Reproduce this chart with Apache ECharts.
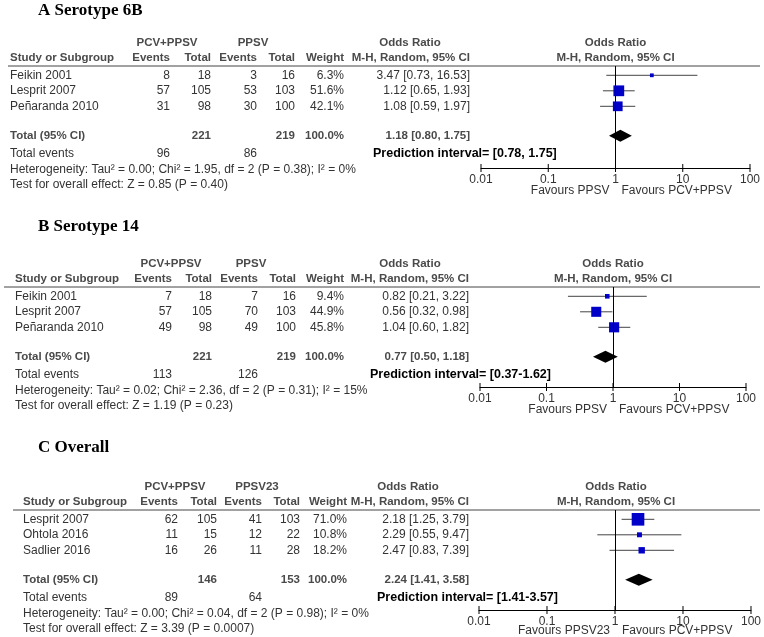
<!DOCTYPE html>
<html>
<head>
<meta charset="utf-8">
<script src="https://cdn.jsdelivr.net/npm/echarts@6/dist/echarts.min.js"></script>
<style>
html, body { margin: 0; padding: 0; background: #fff; }
#main { width: 764px; height: 637px; }
</style>
</head>
<body>
<div id="main"></div>
<script>
// A Serotype 6B
var titleA = 'A Serotype 6B';
var studiesA = ['Feikin 2001', 'Lesprit 2007', 'Peñaranda 2010'];
var eventsA1 = [8, 57, 31];
var totalA1 = [18, 105, 98];
var eventsA2 = [3, 53, 30];
var totalA2 = [16, 103, 100];
var weightA = [6.3, 51.6, 42.1];
var orA = [3.47, 1.12, 1.08];
var loA = [0.73, 0.65, 0.59];
var hiA = [16.53, 1.93, 1.97];
var pooledA = [1.18, 0.80, 1.75];
var sumsA = [221, 219, 96, 86];
var statsA = ['Heterogeneity: Tau² = 0.00; Chi² = 1.95, df = 2 (P = 0.38); I² = 0%',
              'Test for overall effect: Z = 0.85 (P = 0.40)',
              'Prediction interval= [0.78, 1.75]'];

// B Serotype 14
var titleB = 'B Serotype 14';
var studiesB = ['Feikin 2001', 'Lesprit 2007', 'Peñaranda 2010'];
var eventsB1 = [7, 57, 49];
var totalB1 = [18, 105, 98];
var eventsB2 = [7, 70, 49];
var totalB2 = [16, 103, 100];
var weightB = [9.4, 44.9, 45.8];
var orB = [0.82, 0.56, 1.04];
var loB = [0.21, 0.32, 0.60];
var hiB = [3.22, 0.98, 1.82];
var pooledB = [0.77, 0.50, 1.18];
var sumsB = [221, 219, 113, 126];
var statsB = ['Heterogeneity: Tau² = 0.02; Chi² = 2.36, df = 2 (P = 0.31); I² = 15%',
              'Test for overall effect: Z = 1.19 (P = 0.23)',
              'Prediction interval= [0.37-1.62]'];

// C Overall
var titleC = 'C Overall';
var studiesC = ['Lesprit 2007', 'Ohtola 2016', 'Sadlier 2016'];
var eventsC1 = [62, 11, 16];
var totalC1 = [105, 15, 26];
var eventsC2 = [41, 12, 11];
var totalC2 = [103, 22, 28];
var weightC = [71.0, 10.8, 18.2];
var orC = [2.18, 2.29, 2.47];
var loC = [1.25, 0.55, 0.83];
var hiC = [3.79, 9.47, 7.39];
var pooledC = [2.24, 1.41, 3.58];
var sumsC = [146, 153, 89, 64];
var statsC = ['Heterogeneity: Tau² = 0.00; Chi² = 0.04, df = 2 (P = 0.98); I² = 0%',
              'Test for overall effect: Z = 3.39 (P = 0.0007)',
              'Prediction interval= [1.41-3.57]'];

var groupNames = [['PCV+PPSV', 'PPSV'], ['PCV+PPSV', 'PPSV'], ['PCV+PPSV', 'PPSV23']];
var favours = [['Favours PPSV', 'Favours PCV+PPSV'], ['Favours PPSV', 'Favours PCV+PPSV'], ['Favours PPSV23', 'Favours PCV+PPSV']];
var tickVals = [0.01, 0.1, 1, 10, 100];
var tickLabels = ['0.01', '0.1', '1', '10', '100'];

// row slots (in row units below the header line)
var studyRows = [0.6, 1.6, 2.6];
var totalRow = 4.5;
var eventsRow = 5.65, hetRow = 6.68, testRow = 7.65;
var ROW_H = 15.5;

var panels = [
  {title: titleA, studies: studiesA, e1: eventsA1, t1: totalA1, e2: eventsA2, t2: totalA2, w: weightA, or: orA, lo: loA, hi: hiA, pooled: pooledA, sums: sumsA, stats: statsA},
  {title: titleB, studies: studiesB, e1: eventsB1, t1: totalB1, e2: eventsB2, t2: totalB2, w: weightB, or: orB, lo: loB, hi: hiB, pooled: pooledB, sums: sumsB, stats: statsB},
  {title: titleC, studies: studiesC, e1: eventsC1, t1: totalC1, e2: eventsC2, t2: totalC2, w: weightC, or: orC, lo: loC, hi: hiC, pooled: pooledC, sums: sumsC, stats: statsC}
];

// layout per panel (pixels)
var layout = [
  {titleY: 11, lineY: 66, axisY: 168, lineX: 8, study: 10, e1: 170, t1: 211, e2: 257, t2: 295, w: 344, or: 470, g1: 167, g2: 253, orHdr: 410, px0: 481, px1: 750, predX: 373, favY: 23},
  {titleY: 227, lineY: 287, axisY: 387, lineX: 4, study: 15, e1: 172, t1: 212, e2: 258, t2: 296, w: 344, or: 469, g1: 171, g2: 251, orHdr: 410, px0: 480, px1: 746, predX: 370, favY: 23},
  {titleY: 448, lineY: 510, axisY: 610, lineX: 13, study: 23, e1: 178, t1: 217, e2: 262, t2: 300, w: 347, or: 469, g1: 175, g2: 257, orHdr: 408, px0: 479, px1: 753, predX: 377, favY: 21}
];

var SANS = '"Liberation Sans", Arial, sans-serif';
var BODY = '#333';
var HEAD = '#4a4a4a';

function txt(x, y, s, size, bold, color, align) {
  return {
    type: 'text', silent: true,
    style: {
      x: x, y: y, text: String(s),
      font: (bold ? 'bold ' : '') + size + 'px ' + SANS,
      fill: color, align: align || 'left', verticalAlign: 'middle'
    }
  };
}

function ci(v) {
  return v[0].toFixed(2) + ' [' + v[1].toFixed(2) + ', ' + v[2].toFixed(2) + ']';
}

var graphics = [];
var grids = [], xAxes = [], yAxes = [], series = [];

panels.forEach(function (p, i) {
  var L = layout[i];
  var rowY = function (r) { return L.lineY + r * ROW_H; };
  var x1 = (L.px0 + L.px1) / 2;
  var plotH = L.axisY - L.lineY;
  var yMax = plotH / ROW_H;

  graphics.push({
    type: 'text', silent: true,
    style: {x: 38, y: L.titleY, text: p.title, font: 'bold 17px "Liberation Serif", "Times New Roman", serif',
            fill: '#000', verticalAlign: 'middle'}
  });

  // header
  var h1 = rowY(-1.5), h2 = rowY(-0.5);
  graphics.push(txt(L.g1, h1, groupNames[i][0], 11.5, true, HEAD, 'center'));
  graphics.push(txt(L.g2, h1, groupNames[i][1], 11.5, true, HEAD, 'center'));
  graphics.push(txt(L.orHdr, h1, 'Odds Ratio', 11.5, true, HEAD, 'center'));
  graphics.push(txt(x1, h1, 'Odds Ratio', 11.5, true, HEAD, 'center'));
  graphics.push(txt(L.study, h2, 'Study or Subgroup', 11.5, true, HEAD, 'left'));
  graphics.push(txt(L.e1, h2, 'Events', 11.5, true, HEAD, 'right'));
  graphics.push(txt(L.t1, h2, 'Total', 11.5, true, HEAD, 'right'));
  graphics.push(txt(L.e2, h2, 'Events', 11.5, true, HEAD, 'right'));
  graphics.push(txt(L.t2, h2, 'Total', 11.5, true, HEAD, 'right'));
  graphics.push(txt(L.w, h2, 'Weight', 11.5, true, HEAD, 'right'));
  graphics.push(txt(L.or, h2, 'M-H, Random, 95% CI', 11.5, true, HEAD, 'right'));
  graphics.push(txt(x1, h2, 'M-H, Random, 95% CI', 11.5, true, HEAD, 'center'));
  graphics.push({
    type: 'line', silent: true,
    shape: {x1: L.lineX, y1: L.lineY, x2: 760, y2: L.lineY},
    style: {stroke: '#444', lineWidth: 1}
  });

  // study rows
  p.studies.forEach(function (s, k) {
    var y = rowY(studyRows[k]);
    graphics.push(txt(L.study, y, s, 12, false, BODY, 'left'));
    graphics.push(txt(L.e1, y, p.e1[k], 12, false, BODY, 'right'));
    graphics.push(txt(L.t1, y, p.t1[k], 12, false, BODY, 'right'));
    graphics.push(txt(L.e2, y, p.e2[k], 12, false, BODY, 'right'));
    graphics.push(txt(L.t2, y, p.t2[k], 12, false, BODY, 'right'));
    graphics.push(txt(L.w, y, p.w[k].toFixed(1) + '%', 12, false, BODY, 'right'));
    graphics.push(txt(L.or, y, ci([p.or[k], p.lo[k], p.hi[k]]), 12, false, BODY, 'right'));
  });

  // totals
  var ty = rowY(totalRow);
  graphics.push(txt(L.study, ty, 'Total (95% CI)', 11.5, true, HEAD, 'left'));
  graphics.push(txt(L.t1, ty, p.sums[0], 11.5, true, HEAD, 'right'));
  graphics.push(txt(L.t2, ty, p.sums[1], 11.5, true, HEAD, 'right'));
  graphics.push(txt(L.w, ty, '100.0%', 11.5, true, HEAD, 'right'));
  graphics.push(txt(L.or, ty, ci(p.pooled), 11.5, true, HEAD, 'right'));

  var ey = rowY(eventsRow);
  graphics.push(txt(L.study, ey, 'Total events', 12, false, BODY, 'left'));
  graphics.push(txt(L.e1, ey, p.sums[2], 12, false, BODY, 'right'));
  graphics.push(txt(L.e2, ey, p.sums[3], 12, false, BODY, 'right'));
  graphics.push(txt(L.predX, ey, p.stats[2], 12.5, true, '#000', 'left'));
  graphics.push(txt(L.study, rowY(hetRow), p.stats[0], 12, false, BODY, 'left'));
  graphics.push(txt(L.study, rowY(testRow), p.stats[1], 12, false, BODY, 'left'));

  // favours labels
  graphics.push(txt(x1 - 6, L.axisY + L.favY, favours[i][0], 12, false, BODY, 'right'));
  graphics.push(txt(x1 + 6, L.axisY + L.favY, favours[i][1], 12, false, BODY, 'left'));

  // plot
  grids.push({left: L.px0, right: 764 - L.px1, top: L.lineY, height: plotH});
  xAxes.push({
    type: 'log', logBase: 10, min: 0.01, max: 100, position: 'bottom', gridIndex: i,
    splitLine: {show: false},
    axisLine: {show: true, onZero: false, lineStyle: {color: '#000', width: 1}},
    axisTick: {show: false},
    axisLabel: {
      show: true, color: BODY, fontSize: 12, fontFamily: SANS, margin: 6,
      formatter: function (v) {
        var idx = Math.round(Math.log(v) / Math.LN10) + 2;
        return tickLabels[idx] || '';
      }
    }
  });
  yAxes.push({
    type: 'value', gridIndex: i, inverse: true, min: 0, max: yMax, show: false
  });

  var ciData = p.studies.map(function (s, k) { return [p.lo[k], p.hi[k], studyRows[k]]; });
  var ptData = p.studies.map(function (s, k) { return [p.or[k], studyRows[k], p.w[k]]; });

  // tick marks crossing the axis line
  series.push({
    type: 'custom', xAxisIndex: i, yAxisIndex: i, silent: true,
    encode: {x: 0, y: 1},
    data: tickVals.map(function (v) { return [v, yMax]; }),
    renderItem: function (params, api) {
      var a = api.coord([api.value(0), api.value(1)]);
      return {type: 'line', shape: {x1: a[0], y1: a[1] - 4, x2: a[0], y2: a[1] + 4},
              style: {stroke: '#000', lineWidth: 1}};
    }
  });
  series.push({
    type: 'custom', xAxisIndex: i, yAxisIndex: i, silent: true,
    encode: {x: [0, 1], y: 2},
    data: ciData,
    renderItem: function (params, api) {
      var a = api.coord([api.value(0), api.value(2)]);
      var b = api.coord([api.value(1), api.value(2)]);
      return {type: 'line', shape: {x1: a[0], y1: a[1], x2: b[0], y2: b[1]},
              style: {stroke: '#444', lineWidth: 1}};
    }
  });
  series.push({
    type: 'scatter', xAxisIndex: i, yAxisIndex: i, silent: true,
    symbol: 'rect',
    symbolSize: function (v) { return 1.5 * Math.sqrt(v[2]); },
    itemStyle: {color: '#0000c8', opacity: 1},
    data: ptData,
    markLine: {
      silent: true, symbol: 'none', label: {show: false},
      lineStyle: {color: '#000', width: 1, type: 'solid'},
      data: [{xAxis: 1}]
    }
  });
  series.push({
    type: 'custom', xAxisIndex: i, yAxisIndex: i, silent: true,
    encode: {x: [0, 1, 2], y: 3},
    data: [[p.pooled[1], p.pooled[0], p.pooled[2], totalRow]],
    renderItem: function (params, api) {
      var l = api.coord([api.value(0), api.value(3)]);
      var c = api.coord([api.value(1), api.value(3)]);
      var r = api.coord([api.value(2), api.value(3)]);
      return {type: 'polygon',
              shape: {points: [[l[0], l[1]], [c[0], c[1] - 6], [r[0], r[1]], [c[0], c[1] + 6]]},
              style: {fill: '#000'}};
    }
  });
});

var chart = echarts.init(document.getElementById('main'));
chart.setOption({
  animation: false,
  backgroundColor: '#fff',
  grid: grids,
  xAxis: xAxes,
  yAxis: yAxes,
  series: series,
  graphic: graphics
});
window.onresize = chart.resize;
</script>
</body>
</html>
